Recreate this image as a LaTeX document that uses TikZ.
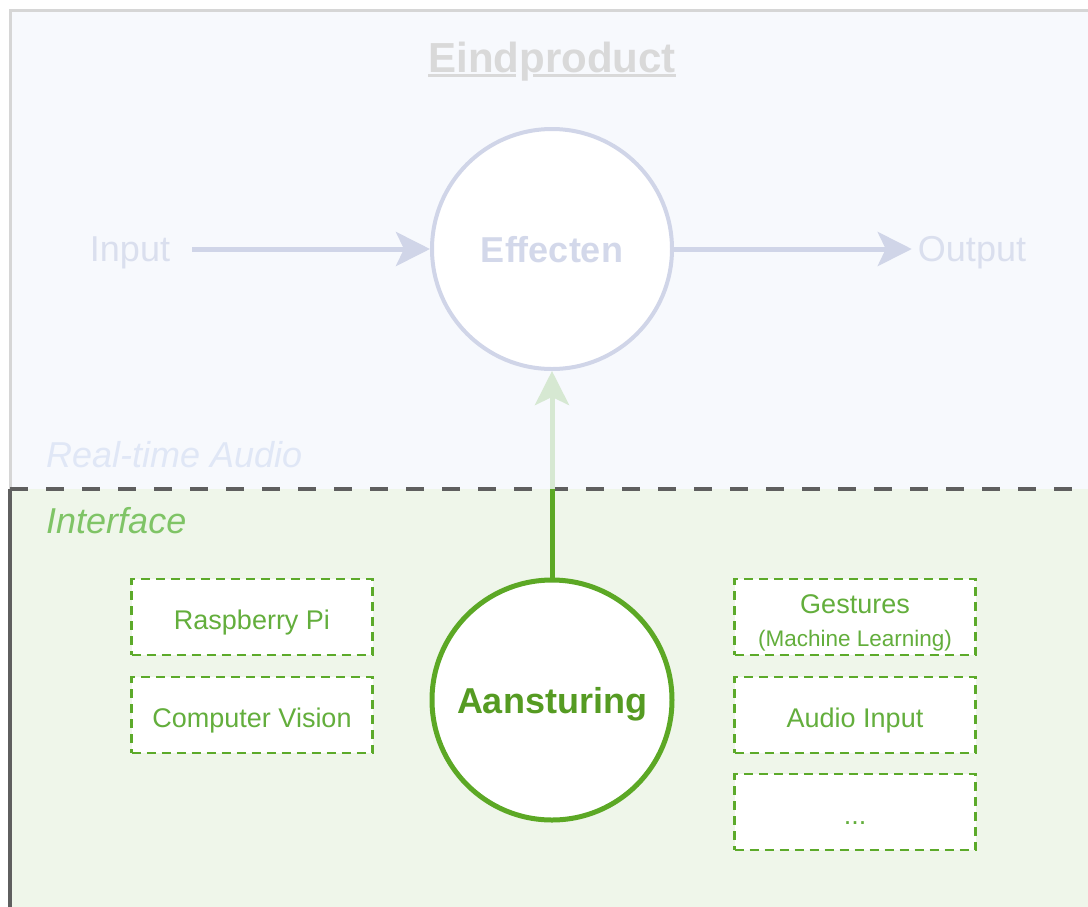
\documentclass[tikz,border=0pt]{standalone}
\usepackage{fontspec}
\setmainfont{Liberation Sans}
\usetikzlibrary{arrows.meta}
\definecolor{topfill}{HTML}{F7F9FD}
\definecolor{botfill}{HTML}{EFF6EA}
\definecolor{topborder}{HTML}{D6D6D6}
\definecolor{darkgrey}{HTML}{5F5F5F}
\definecolor{titlegrey}{HTML}{D9D9D9}
\definecolor{effstroke}{HTML}{D0D5E8}
\definecolor{efftext}{HTML}{D3D8EA}
\definecolor{iotext}{HTML}{DADFEE}
\definecolor{rtatext}{HTML}{E0E7F6}
\definecolor{upgreen}{HTML}{D6E8D2}
\definecolor{green}{HTML}{5CA825}
\definecolor{boxgreen}{HTML}{5CAA2A}
\definecolor{boxtext}{HTML}{63AE3C}
\definecolor{ifgreen}{HTML}{7FC466}
\tikzset{
  bigcircle/.style={circle, line width=4, fill=white, minimum size=240, inner sep=0,
    text depth=0pt, font=\bfseries\fontsize{36}{40}\selectfont},
  iolabel/.style={text=iotext, inner sep=0, font=\fontsize{36}{40}\selectfont},
  itlabel/.style={anchor=west, inner sep=0, font=\itshape\fontsize{36}{40}\selectfont},
  optbox/.style={draw=boxgreen, line width=2.5, dash pattern=on 9 off 6, fill=white,
    minimum width=241, minimum height=76, inner sep=0, text=boxtext,
    font=\fontsize{27}{30}\selectfont, align=center},
  oneline/.style={text height=24, text depth=0pt},
  flow/.style={line width=5, -{Stealth[length=34, width=34, inset=8]}},
}
\begin{document}
\begin{tikzpicture}[x=1pt,y=-1pt]
\useasboundingbox (0,0) rectangle (1088,906);
% regions
\fill[topfill] (10,10) rectangle (1100,489);
\fill[botfill] (10,489) rectangle (1100,920);
\draw[topborder, line width=3] (10,489) -- (10,10) -- (1100,10);
\draw[darkgrey, line width=4] (10,910) -- (10,489);
\draw[darkgrey, line width=4, dash pattern=on 18 off 18] (10,489) -- (1100,489);
% titles
\node[text=titlegrey, font=\bfseries\fontsize{42}{46}\selectfont, inner sep=0, anchor=base] (title) at (552,72) {Eindproduct};
\draw[titlegrey, line width=2.5] (title.west |- 0,75.5) -- (516,75.5);
\draw[titlegrey, line width=2.5] (533,75.5) -- (title.east |- 0,75.5);
\node[itlabel, text=rtatext] (rta) at (46,455) {Real-time Audio};
\node[itlabel, text=ifgreen] (intf) at (46,521) {Interface};
% circles
\node[bigcircle, draw=effstroke, text=efftext] (eff) at (552,249) {Effecten};
\node[bigcircle, draw=green, text=green!92!black, line width=5] (ans) at (552,700) {Aansturing};
% input / output
\node[iolabel, text depth=0pt] (inp) at (130,249) {Input};
\node[iolabel, text depth=0pt] (outp) at (972,249) {Output};
\draw[flow, effstroke, shorten <=22] (inp) -- (eff);
\draw[flow, effstroke, shorten >=6] (eff) -- (outp);
% vertical arrow
\coordinate (cross) at (552,489);
\draw[flow, upgreen] (ans.north) -- (eff.south);
\draw[green, line width=5] (ans.north) -- (cross);
% boxes
\node[optbox, oneline] (rpi) at (252,617) {Raspberry Pi};
\node[optbox, oneline] (cv) at (252,715) {Computer Vision};
\node[optbox, text height=58, text depth=0pt] (gest) at (855,617) {Gestures\\[3pt]{\fontsize{22.5}{26}\selectfont (Machine Learning)}};
\node[optbox, oneline] (audio) at (855,715) {Audio Input};
\node[optbox, oneline] (dots) at (855,812) {...};
\end{tikzpicture}
\end{document}
